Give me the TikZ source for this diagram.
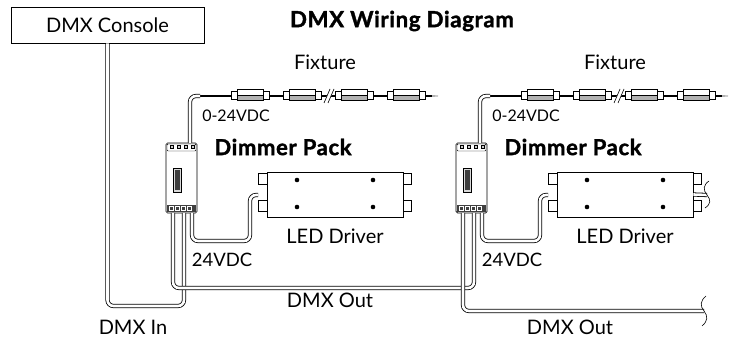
\documentclass[tikz,border=0pt]{standalone}
\usepackage{fontspec}
\setsansfont{Lato}
\newfontfamily\heavyfont{Lato}[FakeBold=1.6, LetterSpace=3]

\begin{document}
\begin{tikzpicture}[x=1pt, y=-1pt, font=\sffamily,
    cable/.style={line width=0.8pt, double=white, double distance=2.6pt, rounded corners=6pt},
    lbl/.style={font=\sffamily\fontsize{20}{22}\selectfont, inner sep=0pt},
    numlbl/.style={font=\sffamily\fontsize{18.5}{20}\selectfont, inner sep=0pt},
    smalllbl/.style={font=\sffamily\fontsize{16}{18}\selectfont, inner sep=0pt},
    head/.style={font=\heavyfont\bfseries\fontsize{22}{24}\selectfont, inner sep=0pt},
    title/.style={font=\heavyfont\bfseries\fontsize{22.2}{24}\selectfont, inner sep=0pt},
    dimmer/.style={draw, line width=0.7pt, fill=white, rounded corners=1.5pt, minimum width=31pt, minimum height=70pt, inner sep=0pt},
    driver/.style={draw, line width=0.7pt, fill=white, minimum width=136pt, minimum height=45pt, inner sep=0pt}]
    \useasboundingbox (0,0) rectangle (731,339);

    \node[draw, line width=0.7pt, minimum width=193pt, minimum height=36pt, lbl] (console) at (107.5,25) {DMX Console};
    \node[title] (title) at (402,21) {DMX Wiring Diagram};

    \foreach \i/\dx in {1/0,2/290}{
    \begin{scope}[xshift=\dx pt]
        % dimmer pack
        \node[dimmer] (dim\i) at (181.5,178) {};
        \draw[fill=white, rounded corners=1pt] (167,144) rectangle (196,151);
        \foreach \t in {170,177,184,191} \draw[fill=gray!40, line width=0.4pt] (\t,145.5) rectangle +(3,3);
        \fill[black!75] (167,205) rectangle (196,212.5);
        \foreach \t in {169,175,181,187} \draw[white, line width=0.4pt] (\t,206.5) rectangle +(4,4);
        \draw[fill=gray!30] (173,168) rectangle (181,192);
        \fill[black!75] (174.5,170) rectangle (179.5,190);
        \coordinate (top\i) at (190,143);
        \coordinate (outA\i) at (173,213);
        \coordinate (inB\i) at (184,213);
        \coordinate (pwr\i) at (192,213);
        % led driver
        \node[driver] (drv\i) at (335,194.5) {};
        \foreach \ty in {173,200} {
            \draw (267,\ty) -- (258,\ty) -- (258,\ty+11.5) -- (267,\ty+11.5);
            \draw (403,\ty) -- (411,\ty) -- (411,\ty+11.5) -- (403,\ty+11.5);
        }
        \foreach \px in {297,373} \foreach \py in {180,207} \fill (\px,\py) circle (2.3);
        \coordinate (drvin\i) at (258,195);
        % fixture strip
        \draw[line width=1.4pt] (200,96) -- (432,96);
        \foreach \sx in {231,283,335,387} {
            \draw[fill=white, line width=0.6pt] (\sx,91) rectangle +(6,8);
            \draw[fill=white, line width=0.6pt] (\sx+6,89) rectangle +(26,6);
            \draw[fill=gray!60, line width=0.6pt] (\sx+6,95) rectangle +(26,5);
            \draw[fill=white, line width=0.6pt] (\sx+32,91) rectangle +(6,8);
        }
        \draw[white, line width=4pt] (326,102) -- (332,90);
        \draw[line width=0.6pt] (324,103) -- (330,89) (328,103) -- (334,89);
        \fill[gray!60] (432,95) -- (438,95.5) -- (438,96.5) -- (432,97) -- cycle;
        % cables
        \draw[cable] (top\i) -- (190,96) -- (200,96);
        \draw[cable] (pwr\i) -- (192,241) -- (250,241) -- (250,195) -- (drvin\i);
        % labels
        \node[lbl] at (325,62) {Fixture};
        \node[smalllbl] at (236,116) {0-24VDC};
        \node[head] at (283,147) {Dimmer Pack};
        \node[lbl] at (335,236) {LED Driver};
        \node[numlbl] at (222,260) {24VDC};
    \end{scope}
    }

    % dmx line
    \coordinate (dmxend) at (704,311);
    \coordinate (mains) at (707,195);
    \draw[cable] (console.south) -- (107.5,306) -- (184,306) -- (inB1);
    \draw[cable] (outA1) -- (173,288) -- (474,288) -- (inB2);
    \draw[cable] (outA2) -- (463,311) -- (dmxend);
    \draw[cable] (drv2.east) -- (mains);
    \draw[line width=0.6pt] (706,296) .. controls (700,301) and (700,306) .. (704,311) .. controls (708,316) and (708,321) .. (702,326);
    \draw[line width=0.6pt] (709,181) .. controls (703,185) and (703,190) .. (707,195) .. controls (711,200) and (711,204) .. (705,208);

    \node[lbl] at (133,327) {DMX In};
    \node[lbl] at (330,300) {DMX Out};
    \node[lbl] at (570,327) {DMX Out};
\end{tikzpicture}
\end{document}
